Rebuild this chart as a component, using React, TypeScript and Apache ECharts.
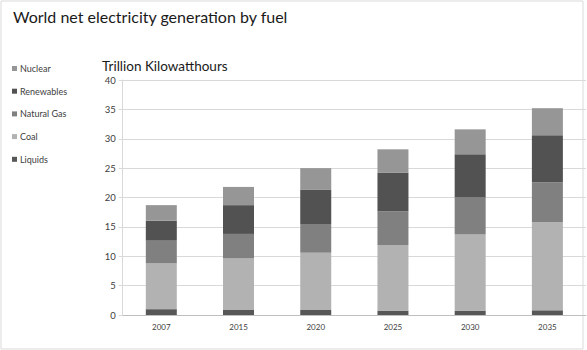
import React, { useEffect, useRef } from "react";
import * as echarts from "echarts";

const categories = ["2007", "2015", "2020", "2025", "2030", "2035"];
const liquids = [1.0, 0.85, 0.85, 0.75, 0.75, 0.8];
const coal = [7.8, 8.8, 9.75, 11.15, 12.95, 15.0];
const naturalGas = [3.85, 4.15, 4.9, 5.75, 6.3, 6.8];
const renewables = [3.4, 4.9, 5.8, 6.55, 7.35, 8.0];
const nuclear = [2.65, 3.1, 3.7, 4.0, 4.25, 4.6];
const legendOrder = ["Nuclear", "Renewables", "Natural Gas", "Coal", "Liquids"];

const FONT = "Lato, 'Open Sans', sans-serif";

export default function App() {
  const ref = useRef<HTMLDivElement>(null);
  useEffect(() => {
    if (!ref.current) return;
    const chart = echarts.init(ref.current, null, { renderer: "svg" });
    const mk = (name: string, data: number[], color: string) => ({
      name,
      type: "bar",
      stack: "total",
      data,
      barWidth: 31,
      itemStyle: { color },
    });
    chart.setOption({
      animation: false,
      backgroundColor: "#ffffff",
      textStyle: { fontFamily: FONT },
      graphic: [
        {
          type: "rect",
          shape: { x: 1, y: 1, width: 582, height: 348 },
          style: { fill: "none", stroke: "#d9d9d9", lineWidth: 1 },
          silent: true,
        },
        {
          type: "text",
          x: 13,
          y: 8,
          style: {
            text: "World net electricity generation by fuel",
            font: `16px ${FONT}`,
            fill: "#1a1a1a",
            verticalAlign: "top",
          },
        },
        {
          type: "text",
          x: 102,
          y: 73,
          style: {
            text: "Trillion Kilowatthours",
            font: `13.5px ${FONT}`,
            fill: "#1a1a1a",
            verticalAlign: "bottom",
          },
        },
      ],
      legend: {
        data: legendOrder,
        orient: "vertical",
        left: 7,
        top: 59,
        itemWidth: 5,
        itemHeight: 5,
        itemGap: 13.7,
        icon: "rect",
        textStyle: { fontSize: 9, color: "#404040", fontFamily: FONT, padding: [0, 0, 0, -2] },
      },
      grid: { left: 122.7, right: 1, top: 80, bottom: 35 },
      xAxis: {
        type: "category",
        data: categories,
        axisLine: { lineStyle: { color: "#bfbfbf" } },
        axisTick: { lineStyle: { color: "#bfbfbf" }, length: 4 },
        axisLabel: { fontSize: 8, color: "#404040", margin: 8 },
      },
      yAxis: {
        type: "value",
        min: 0,
        max: 40,
        interval: 5,
        axisLine: { show: true, lineStyle: { color: "#d9d9d9" } },
        axisTick: { show: true, length: 4, lineStyle: { color: "#d9d9d9" } },
        axisLabel: { fontSize: 9.5, color: "#404040", margin: 7 },
        splitLine: { lineStyle: { color: "#d9d9d9" } },
      },
      series: [
        mk("Liquids", liquids, "#575757"),
        mk("Coal", coal, "#b2b2b2"),
        mk("Natural Gas", naturalGas, "#808080"),
        mk("Renewables", renewables, "#525252"),
        mk("Nuclear", nuclear, "#969696"),
      ],
    });
    return () => chart.dispose();
  }, []);
  return (
    <div
      ref={ref}
      style={{ position: "fixed", left: 0, top: 0, width: 587, height: 350 }}
    />
  );
}
